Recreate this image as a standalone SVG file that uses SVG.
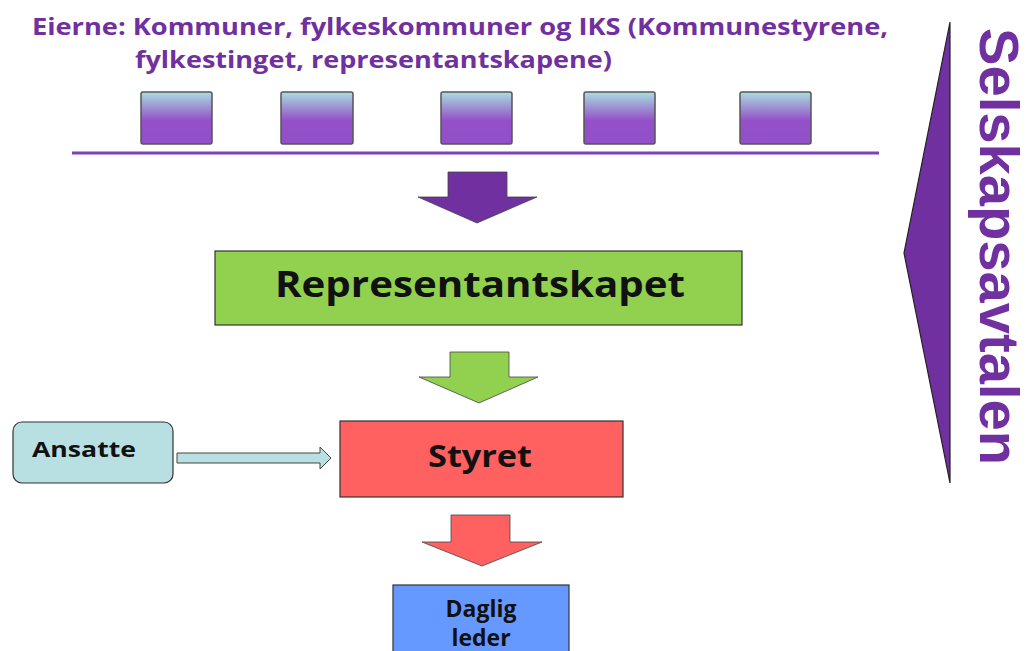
<svg xmlns="http://www.w3.org/2000/svg" width="1033" height="651" viewBox="0 0 1033 651">
<defs>
<linearGradient id="ownerGrad" x1="0" y1="0" x2="0" y2="1">
<stop offset="0" stop-color="#a9dde0"/>
<stop offset="0.55" stop-color="#9450c8"/>
<stop offset="1" stop-color="#9150c8"/>
</linearGradient>
<style>
.title{font-family:"Open Sans","Liberation Sans",sans-serif;font-weight:bold;fill:#7030a0;font-size:24px}
.lbl{font-family:"Open Sans","Liberation Sans",sans-serif;font-weight:bold;fill:#111}
.owner{fill:url(#ownerGrad);stroke:#555;stroke-width:1.5}
.box{stroke:#333;stroke-width:1.2}
.bigarrow{stroke:#444;stroke-width:0.8}
</style>
</defs>
<rect width="1033" height="651" fill="#ffffff"/>

<g id="title">
<text class="title" x="32" y="35" textLength="856" lengthAdjust="spacingAndGlyphs">Eierne: Kommuner, fylkeskommuner og IKS (Kommunestyrene,</text>
<text class="title" x="135" y="68" textLength="477" lengthAdjust="spacingAndGlyphs">fylkestinget, representantskapene)</text>
</g>

<g id="owners">
<rect class="owner" x="141" y="92" width="71" height="52" rx="2"/>
<rect class="owner" x="281" y="92" width="72" height="52" rx="2"/>
<rect class="owner" x="441" y="92" width="71" height="52" rx="2"/>
<rect class="owner" x="584" y="92" width="71" height="52" rx="2"/>
<rect class="owner" x="740" y="92" width="71" height="52" rx="2"/>
<line x1="72" y1="153" x2="879" y2="153" stroke="#8040b8" stroke-width="3"/>
</g>

<g id="selskapsavtalen">
<polygon points="950,22 904,253 950,483" fill="#7030a0" stroke="#222" stroke-width="1.2"/>
<text x="980" y="28" transform="rotate(90 980 28)" font-family="'Liberation Sans',Arial,sans-serif" font-weight="bold" font-size="56" fill="#7030a0" textLength="437" lengthAdjust="spacingAndGlyphs">Selskapsavtalen</text>
</g>

<g id="connectors">
<polygon class="bigarrow" points="448,172 507,172 507,197 537,197 477,223 418,197 448,197" fill="#7030a0"/>
<polygon class="bigarrow" points="450,352 509,352 509,377 538,377 479,403 419,377 450,377" fill="#92d050"/>
<polygon class="bigarrow" points="451,515 510,515 510,542 542,542 482,566 422,542 451,542" fill="#ff6060"/>
<polygon points="177,453 320,453 320,447 331,458 320,469 320,463 177,463" fill="#b8e0e2" stroke="#444" stroke-width="1"/>
</g>

<g id="representantskapet">
<rect class="box" x="215" y="251" width="527" height="74" fill="#92d050"/>
<text class="lbl" x="275" y="297" font-size="35" textLength="410" lengthAdjust="spacingAndGlyphs">Representantskapet</text>
</g>

<g id="styret">
<rect class="box" x="340" y="421" width="283" height="76" fill="#ff6060"/>
<text class="lbl" x="428" y="467" font-size="30" textLength="104" lengthAdjust="spacingAndGlyphs">Styret</text>
</g>

<g id="ansatte">
<rect class="box" x="13" y="422" width="160" height="61" rx="9" fill="#b8e0e2"/>
<text class="lbl" x="32" y="457" font-size="21" textLength="104" lengthAdjust="spacingAndGlyphs">Ansatte</text>
</g>

<g id="daglig-leder">
<rect class="box" x="393" y="585" width="176" height="80" fill="#6699ff"/>
<text class="lbl" x="481" y="617" font-size="23" text-anchor="middle">Daglig</text>
<text class="lbl" x="481" y="646" font-size="23" text-anchor="middle">leder</text>
</g>
</svg>
